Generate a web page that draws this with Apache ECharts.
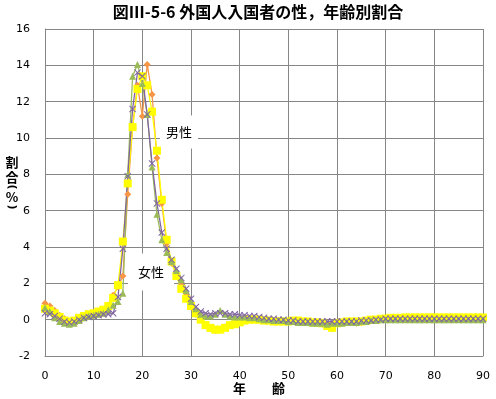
<!DOCTYPE html>
<html><head><meta charset="utf-8">
<script src="https://cdn.jsdelivr.net/npm/echarts@6/dist/echarts.min.js"></script>
<style>html,body{margin:0;padding:0;background:#fff}#c{width:496px;height:399px}</style>
</head><body><div id="c"></div>
<script>
const ages = [0,1,2,3,4,5,6,7,8,9,10,11,12,13,14,15,16,17,18,19,20,21,22,23,24,25,26,27,28,29,30,
  31,32,33,34,35,36,37,38,39,40,41,42,43,44,45,46,47,48,49,50,51,52,53,54,55,56,57,58,59,60,
  61,62,63,64,65,66,67,68,69,70,71,72,73,74,75,76,77,78,79,80,81,82,83,84,85,86,87,88,89,90];

const xTicks = [0,10,20,30,40,50,60,70,80,90];
const yTicks = [-2,0,2,4,6,8,10,12,14,16];

// orange diamonds
const seriesA = [0.9,0.75,0.5,0.25,0.05,-0.1,-0.1,0.0,0.1,0.2,0.25,0.3,0.45,0.8,
  1.35,1.8,2.4,6.9,10.6,12.9,11.2,14.05,12.4,8.9,6.4,4.2,3.1,2.5,1.9,1.3,0.7,
  0.3,0.0,-0.3,-0.5,-0.6,-0.55,-0.4,-0.3,-0.2,-0.1,0.0,0.05,0.05,0.0,0.0,-0.05,-0.05,-0.05,-0.1,-0.1,
  -0.1,-0.1,-0.1,-0.15,-0.15,-0.2,-0.25,-0.3,-0.5,-0.2,
  -0.15,-0.15,-0.15,-0.2,-0.15,-0.1,-0.05,0.0,0.0,0.05,
  0.05,0.05,0.05,0.05,0.05,0.05,0.05,0.05,0.05,0.05,0.05,0.05,0.05,0.05,0.05,0.05,0.05,0.05,0.05,0.05];
// yellow squares
const seriesB = [0.6,0.5,0.35,0.15,-0.05,-0.1,-0.05,0.1,0.2,0.3,0.35,0.45,0.55,0.75,
  1.2,1.9,4.3,7.5,10.6,12.7,13.4,12.9,11.45,9.3,6.6,4.4,3.2,2.4,1.7,1.15,0.75,
  0.35,0.0,-0.3,-0.45,-0.55,-0.55,-0.45,-0.3,-0.25,-0.15,-0.05,0.0,0.0,0.0,-0.05,-0.05,-0.1,-0.1,-0.1,-0.1,
  -0.05,-0.05,-0.1,-0.1,-0.15,-0.15,-0.2,-0.35,-0.45,-0.2,
  -0.15,-0.1,-0.1,-0.1,-0.1,-0.05,0.0,0.0,0.05,0.05,
  0.1,0.1,0.1,0.12,0.12,0.12,0.12,0.12,0.12,0.12,0.12,0.12,0.12,0.12,0.12,0.12,0.12,0.12,0.12,0.12];
// green triangles
const seriesC = [0.65,0.45,0.1,-0.1,-0.2,-0.25,-0.2,-0.05,0.1,0.2,0.25,0.3,0.35,0.55,
  0.8,1.0,1.45,8.0,13.4,14.05,13.0,11.3,8.4,5.8,4.4,3.7,3.2,2.7,2.2,1.6,1.0,
  0.6,0.3,0.2,0.2,0.3,0.5,0.3,0.2,0.15,0.15,0.15,0.1,0.1,0.05,0.0,0.0,-0.05,-0.05,-0.05,-0.1,
  -0.1,-0.15,-0.15,-0.15,-0.2,-0.2,-0.2,-0.25,-0.2,-0.2,
  -0.2,-0.15,-0.15,-0.15,-0.1,-0.1,-0.05,-0.05,0.0,0.0,
  0.0,0.0,0.0,0.0,0.0,0.0,0.0,0.0,0.0,0.0,0.0,0.0,0.0,0.0,0.0,0.0,0.0,0.0,0.0,0.0];
// purple crosses
const seriesD = [0.35,0.3,0.2,0.05,-0.1,-0.15,-0.1,0.0,0.1,0.15,0.2,0.25,0.3,0.3,
  0.35,1.25,3.9,7.9,11.6,13.6,13.4,11.3,8.6,6.4,4.8,3.9,3.3,2.8,2.3,1.7,1.15,
  0.7,0.45,0.35,0.3,0.35,0.35,0.35,0.3,0.3,0.25,0.25,0.2,0.2,0.15,0.1,0.05,0.05,0.0,0.0,-0.05,
  -0.05,-0.1,-0.1,-0.1,-0.1,-0.1,-0.1,-0.1,-0.1,-0.1,
  -0.1,-0.1,-0.1,-0.1,-0.05,-0.05,-0.05,0.0,0.0,0.05,
  0.05,0.05,0.05,0.05,0.05,0.05,0.05,0.05,0.05,0.05,0.05,0.05,0.05,0.05,0.05,0.05,0.05,0.05,0.05,0.05];

const pair = arr => ages.map((a, i) => [a, arr[i]]);
const crossPath = 'path://M0,1L1,0L5,4L9,0L10,1L6,5L10,9L9,10L5,6L1,10L0,9L4,5Z';
const jp = '"Noto Sans CJK JP", sans-serif';

function mk(name, data, color, symbol, size) {
  return {
    name, type: 'line', data: pair(data), symbol, symbolSize: size,
    showSymbol: true, smooth: false,
    lineStyle: { color, width: 1.25 },
    itemStyle: { color, borderWidth: 0 },
    emphasis: { disabled: true }
  };
}

const yName = (t, y) => ({
  type: 'text', x: 12, y, z: 10,
  style: { text: t, fill: '#000', font: 'bold 13px ' + jp,
    align: 'center', verticalAlign: 'middle' }
});
// parentheses turned sideways (vertical writing): rotate a group about its own origin
const yParen = (t, y) => ({
  type: 'group', x: 12, y, rotation: -Math.PI / 2, z: 10,
  children: [{
    type: 'text', x: 0, y: 0, z: 10,
    style: { text: t, fill: '#000', font: 'bold 11px "DejaVu Sans"',
      align: 'center', verticalAlign: 'middle' }
  }]
});

const chart = echarts.init(document.getElementById('c'), null, { renderer: 'canvas' });
chart.setOption({
  animation: false,
  backgroundColor: '#fff',
  grid: { left: 45, right: 13, top: 29, bottom: 43, containLabel: false },
  xAxis: {
    type: 'value', min: xTicks[0], max: xTicks[xTicks.length - 1], interval: 10,
    axisLine: { onZero: false, lineStyle: { color: '#868686', width: 1 } },
    axisTick: { show: false },
    splitLine: { show: true, lineStyle: { color: '#868686', width: 1 } },
    axisLabel: { margin: 15, color: '#000', fontSize: 11, fontFamily: 'DejaVu Sans' }
  },
  yAxis: {
    type: 'value', min: yTicks[0], max: yTicks[yTicks.length - 1], interval: 2,
    axisLine: { show: true, lineStyle: { color: '#868686', width: 1 } },
    axisTick: { show: false },
    splitLine: { show: true, lineStyle: { color: '#868686', width: 1 } },
    axisLabel: { margin: 15, color: '#000', fontSize: 11, fontFamily: 'DejaVu Sans' }
  },
  series: [
    mk('系列1', seriesA, '#F79646', 'diamond', 7),
    mk('系列2', seriesB, '#FFFF00', 'rect', 8),
    mk('系列3', seriesC, '#9BBB59', 'triangle', 7),
    mk('系列4', seriesD, '#8064A2', crossPath, 7)
  ],
  graphic: [
    { type: 'text', x: 258, y: 12, z: 10,
      style: { text: '図Ⅲ-5-6 外国人入国者の性，年齢別割合', fill: '#000',
        font: 'bold 16px ' + jp, align: 'center', verticalAlign: 'middle' } },
    yName('割', 162),
    yName('合', 177),
    yParen('(', 187),
    yName('%', 197),
    yParen(')', 207),
    { type: 'text', x: 259, y: 388, z: 10,
      style: { text: '年　　齢', fill: '#000', font: 'bold 13px ' + jp,
        align: 'center', verticalAlign: 'middle' } },
    { type: 'text', x: 179, y: 132, z: 1,
      style: { text: '男性', fill: '#000', font: '13px ' + jp, backgroundColor: '#fff',
        padding: [10, 6], align: 'center', verticalAlign: 'middle' } },
    { type: 'text', x: 151, y: 272, z: 1,
      style: { text: '女性', fill: '#000', font: '13px ' + jp, backgroundColor: '#fff',
        padding: [12, 10], align: 'center', verticalAlign: 'middle' } }
  ]
});
</script></body></html>
